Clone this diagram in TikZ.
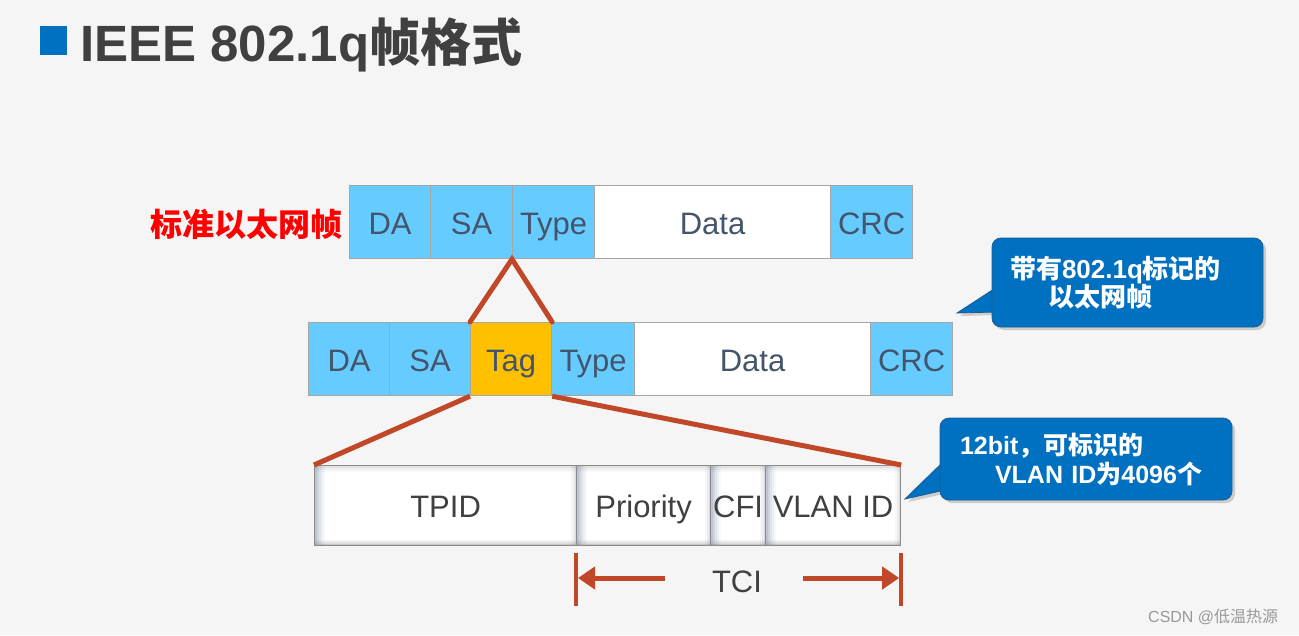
\documentclass[tikz,border=0pt]{standalone}
\usepackage{fontspec}
\setmainfont{Liberation Sans}
\newfontfamily\cjk{Noto Sans CJK SC}
\usetikzlibrary{arrows.meta,shadows}
\definecolor{bg}{RGB}{245,245,245}
\definecolor{cellblue}{RGB}{102,204,255}
\definecolor{tagyel}{RGB}{255,192,0}
\definecolor{slate}{RGB}{68,84,106}
\definecolor{dgray}{RGB}{64,64,64}
\definecolor{rline}{RGB}{192,72,40}
\definecolor{cblue}{RGB}{0,112,192}
\definecolor{cbord}{RGB}{30,90,150}
\definecolor{bev}{RGB}{160,172,190}
\tikzset{
  cell/.style={draw={rgb,255:red,166;green,166;blue,166}, line width=1.2pt, anchor=north west,
    minimum height=73, inner sep=0pt, text height=24, text depth=0, text=slate,
    font=\fontsize{31}{36}\selectfont},
  bcell/.style={draw={rgb,255:red,140;green,140;blue,140}, line width=1.2pt, anchor=north west, fill=white,
    minimum height=80, inner sep=0pt, text height=24, text depth=0, text=dgray,
    font=\fontsize{31}{36}\selectfont,
    path picture={
      \foreach \i/\o in {0/0.7,2/0.5,4/0.32,6/0.18,8/0.08}{
        \fill[bev, opacity=\o] ([xshift=\i pt]path picture bounding box.south west) rectangle ([xshift=\i pt+2pt]path picture bounding box.north west);
      }
      \foreach \i/\o in {0/0.45,2/0.25,4/0.1}{
        \fill[gray, opacity=\o] ([yshift=\i pt]path picture bounding box.south west) rectangle ([yshift=\i pt+2pt]path picture bounding box.south east);
        \fill[gray, opacity=\o*0.6] ([xshift=-\i pt]path picture bounding box.south east) rectangle ([xshift=-\i pt-2pt]path picture bounding box.north east);
        \fill[gray, opacity=\o*0.5] ([yshift=-\i pt]path picture bounding box.north west) rectangle ([yshift=-\i pt-2pt]path picture bounding box.north east);
      }
    }},
  redline/.style={draw=rline, line width=5pt},
  callout/.style={fill=cblue, draw=cbord, line width=0.8pt, rounded corners=9pt, text=white,
    align=left, inner xsep=0pt, inner ysep=0pt, drop shadow={opacity=0.35, shadow xshift=3pt, shadow yshift=-3pt}},
  tail/.style={fill=cblue, draw=cbord, line width=0.8pt, drop shadow={opacity=0.35, shadow xshift=3pt, shadow yshift=-3pt}},
}
\begin{document}
\begin{tikzpicture}[x=1pt,y=-1pt]
\fill[bg] (0,0) rectangle (1299,635);
\useasboundingbox (0,0) rectangle (1299,635);

% title
\fill[cblue] (40,26) rectangle (67,55);
\node[anchor=base west, inner sep=0pt, text=dgray, font=\fontsize{51}{56}\selectfont\bfseries] (title) at (80,61) {IEEE 802.1q{\cjk\bfseries 帧格式}};

% standard frame
\node[cell, fill=cellblue, minimum width=81] (t1) at (349,185) {DA};
\node[cell, fill=cellblue, minimum width=82] (t2) at (430,185) {SA};
\node[cell, fill=cellblue, minimum width=82] (t3) at (512,185) {Type};
\node[cell, fill=white, minimum width=236] (t4) at (594,185) {Data};
\node[cell, fill=cellblue, minimum width=82] (t5) at (830,185) {CRC};
\node[anchor=east, inner sep=0pt, text=red, font=\fontsize{32}{36}\selectfont\cjk\bfseries] (lab) at (343,224) {标准以太网帧};

% tagged frame
\node[cell, fill=cellblue, minimum width=81] (m1) at (308,322) {DA};
\node[cell, fill=cellblue, minimum width=81] (m2) at (389,322) {SA};
\node[cell, fill=tagyel, minimum width=81] (m3) at (470,322) {Tag};
\node[cell, fill=cellblue, minimum width=83] (m4) at (551,322) {Type};
\node[cell, fill=white, minimum width=236] (m5) at (634,322) {Data};
\node[cell, fill=cellblue, minimum width=82] (m6) at (870,322) {CRC};

% tag detail
\node[bcell, minimum width=262] (b1) at (314,465) {TPID};
\node[bcell, minimum width=134] (b2) at (576,465) {Priority};
\node[bcell, minimum width=55] (b3) at (710,465) {CFI};
\node[bcell, minimum width=135] (b4) at (765,465) {VLAN ID};

% expansion lines
\draw[redline, line cap=round] (m3.north west) -- (t3.south west) -- (m3.north east);
\draw[redline] (m3.south west) -- (b1.north west);
\draw[redline] (m3.south east) -- (b4.north east);

% TCI
\coordinate (l1) at ([yshift=-7pt]b2.south west);
\coordinate (l2) at ([yshift=-60pt]b2.south west);
\coordinate (r1) at ([yshift=-7pt]b4.south east);
\coordinate (r2) at ([yshift=-60pt]b4.south east);
\draw[draw=rline, line width=4pt] (l1) -- (l2);
\draw[draw=rline, line width=4pt] (r1) -- (r2);
\node[text=dgray, font=\fontsize{31}{36}\selectfont, inner sep=0pt, text height=23, text depth=0] (tci) at (737,581) {TCI};
\coordinate (la) at (665,578);
\coordinate (ra) at (803,578);
\draw[draw=rline, line width=5pt, -{Triangle[length=17pt,width=22pt]}] (la) -- ([xshift=2pt]l1 |- la);
\draw[draw=rline, line width=5pt, -{Triangle[length=17pt,width=22pt]}] (ra) -- ([xshift=-2pt]r1 |- ra);

% callout 1
\coordinate (tip1) at (957,313);
\draw[tail] (997,287) -- (tip1) -- (997,312);
\node[callout, minimum width=271, minimum height=89, text width=235,
  font=\fontsize{26}{28}\selectfont\bfseries] (c1) at (1127.5,282.5)
  {{\cjk\bfseries 带有}802.1q{\cjk\bfseries 标记的}\\\hspace*{38pt}{\cjk\bfseries 以太网帧}};
\fill[cblue] (993,289) -- (998,289) -- (998,310) -- (993,310) -- cycle;

% callout 2
\coordinate (tip2) at (905,499);
\draw[tail] (945,460) -- (tip2) -- (945,490);
\node[callout, minimum width=292, minimum height=82, text width=252,
  font=\fontsize{25}{29}\selectfont\bfseries] (c2) at (1086,459)
  {12bit{\cjk\bfseries ，可标识的}\\\hspace*{35pt}VLAN ID{\cjk\bfseries 为}4096{\cjk\bfseries 个}};
\fill[cblue] (941,462) -- (946,462) -- (946,488) -- (941,488) -- cycle;

% watermark
\node[anchor=west, inner sep=0pt, text=gray!80, font=\fontsize{16}{18}\selectfont] (wm) at (1148,617) {CSDN @{\cjk 低温热源}};
\end{tikzpicture}
\end{document}
